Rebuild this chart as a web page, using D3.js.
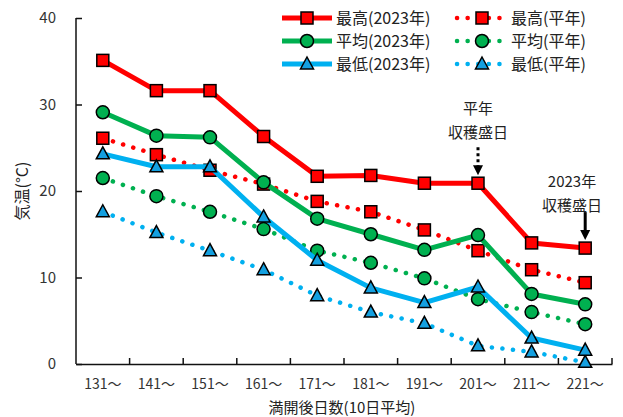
<!DOCTYPE html>
<html>
<head>
<meta charset="utf-8">
<script src="https://cdn.jsdelivr.net/npm/d3@7"></script>
<style>
  body { margin: 0; background: #fff; }
  svg { display: block; font-family: "Noto Sans CJK JP", "Noto Sans", sans-serif; }
</style>
</head>
<body>
<svg id="chart" width="623" height="417"></svg>
<script>
// 満開後日数（10日平均）
const categories = ["131～", "141～", "151～", "161～", "171～", "181～", "191～", "201～", "211～", "221～"];
const maxThisYear = [35.1, 31.6, 31.6, 26.3, 21.7, 21.8, 20.9, 20.9, 14.0, 13.4];
const avgThisYear = [29.1, 26.4, 26.2, 21.0, 16.8, 15.0, 13.2, 14.9, 8.1, 6.9];
const minThisYear = [24.3, 22.8, 22.8, 17.0, 12.0, 8.8, 7.1, 8.9, 3.0, 1.6];
const maxNormal = [26.1, 24.2, 22.4, 20.8, 18.8, 17.6, 15.5, 13.1, 10.9, 9.4];
const avgNormal = [21.5, 19.4, 17.6, 15.6, 13.1, 11.7, 9.9, 7.5, 6.0, 4.6];
const minNormal = [17.6, 15.2, 13.1, 10.9, 7.9, 6.0, 4.7, 2.1, 1.4, 0.2];
const yTicks = [0, 10, 20, 30, 40];

// 系列（描画順：平年 → 2023年）
const series = [
    { name: "最高(平年)", values: maxNormal, color: "#ff0000", dotted: true, marker: "square" },
    { name: "平均(平年)", values: avgNormal, color: "#00b050", dotted: true, marker: "circle" },
    { name: "最低(平年)", values: minNormal, color: "#00b0f0", dotted: true, marker: "triangle" },
    { name: "最低(2023年)", values: minThisYear, color: "#00b0f0", dotted: false, marker: "triangle" },
    { name: "平均(2023年)", values: avgThisYear, color: "#00b050", dotted: false, marker: "circle" },
    { name: "最高(2023年)", values: maxThisYear, color: "#ff0000", dotted: false, marker: "square" }
];
const legendOrder = ["最高(2023年)", "最高(平年)", "平均(2023年)", "平均(平年)", "最低(2023年)", "最低(平年)"];

const svg = d3.select("#chart");
const x = d3.scaleBand().domain(categories).range([76, 612]);
const y = d3.scaleLinear().domain([0, 40]).range([364, 18]);
const cx = d => x(d) + x.bandwidth() / 2;

// 軸
const yAxis = svg.append("g")
    .attr("transform", "translate(76,0)")
    .call(d3.axisLeft(y).tickValues(yTicks).tickSize(-6).tickPadding(20));
const xAxis = svg.append("g")
    .attr("transform", "translate(0,364)")
    .call(d3.axisBottom(x).tickSize(0).tickPadding(15));
// バンド境界の目盛り（内向き）
xAxis.selectAll(".bnd")
    .data(categories.slice(1).concat([null]))
    .enter().append("line")
    .attr("x1", d => d === null ? 612 : x(d))
    .attr("x2", d => d === null ? 612 : x(d))
    .attr("y1", 0).attr("y2", -6)
    .attr("stroke", "#111").attr("stroke-width", 1.5);
[yAxis, xAxis].forEach(g => {
    g.select(".domain").attr("stroke", "#111").attr("stroke-width", 1.5);
    g.selectAll(".tick line").attr("stroke", "#111").attr("stroke-width", 1.5);
    g.selectAll("text").attr("font-size", 15).attr("fill", "#333")
        .attr("font-family", "\"Noto Sans CJK JP\", sans-serif");
});
xAxis.selectAll("text").attr("font-size", 14);
yAxis.select(".domain").attr("d", "M0,364V18");

// 軸タイトル
svg.append("text")
    .attr("transform", "translate(28,191) rotate(-90)")
    .attr("text-anchor", "middle")
    .attr("font-size", 16).attr("fill", "#222")
    .text("気温(°C)");
svg.append("text")
    .attr("x", 342).attr("y", 413)
    .attr("text-anchor", "middle")
    .attr("font-size", 15).attr("fill", "#222")
    .text("満開後日数(10日平均)");

function drawMarker(g, type, color, px, py) {
    if (type === "square") {
        g.append("rect").attr("x", px - 6).attr("y", py - 6).attr("width", 12).attr("height", 12)
            .attr("fill", color).attr("stroke", "#000").attr("stroke-width", 1.5);
    } else if (type === "circle") {
        g.append("circle").attr("cx", px).attr("cy", py).attr("r", 6.5)
            .attr("fill", color).attr("stroke", "#000").attr("stroke-width", 1.5);
    } else {
        g.append("path").attr("d", `M${px},${py - 7}L${px + 6.5},${py + 5}L${px - 6.5},${py + 5}Z`)
            .attr("fill", color === "#00b0f0" ? "#14a0e0" : color).attr("stroke", "#000").attr("stroke-width", 1.5);
    }
}

function styleLine(sel, s) {
    sel.attr("fill", "none").attr("stroke", s.color);
    if (s.dotted) {
        sel.attr("stroke-width", 4.5).attr("stroke-linecap", "round").attr("stroke-dasharray", "0.1 10.5");
    } else {
        sel.attr("stroke-width", 5).attr("stroke-linejoin", "round");
    }
}

const line = d3.line().x((d, i) => cx(categories[i])).y(d => y(d));
series.forEach(s => {
    const g = svg.append("g");
    styleLine(g.append("path").attr("d", line(s.values)), s);
    s.values.forEach((v, i) => drawMarker(g, s.marker, s.color, cx(categories[i]), y(v)));
});

// 凡例
const legend = svg.append("g");
legendOrder.forEach((name, k) => {
    const s = series.find(t => t.name === name);
    const col = k % 2, row = Math.floor(k / 2);
    const lx = col === 0 ? 282 : 457, ly = 18 + row * 23;
    styleLine(legend.append("path").attr("d", `M${lx},${ly}H${lx + 50}`), s);
    drawMarker(legend, s.marker, s.color, lx + 25, ly);
    legend.append("text").attr("x", lx + 54).attr("y", ly + 6)
        .attr("font-size", 16).attr("fill", "#222").text(name);
});

// 収穫盛日の注記
function annotate(lines, tx, ty, cat, value, dotted) {
    const ax = cx(cat), tip = y(value) - 8;
    lines.forEach((t, i) => {
        svg.append("text").attr("x", tx).attr("y", ty + i * 24)
            .attr("text-anchor", "middle").attr("font-size", 15).attr("fill", "#222").text(t);
    });
    svg.append("line").attr("x1", ax).attr("x2", ax).attr("y1", tip - 28).attr("y2", tip - 8)
        .attr("stroke", "#000").attr("stroke-width", 3)
        .attr("stroke-dasharray", dotted ? "3 3" : null);
    svg.append("path").attr("d", `M${ax - 5},${tip - 10}L${ax + 5},${tip - 10}L${ax},${tip}Z`).attr("fill", "#000");
}
annotate(["平年", "収穫盛日"], cx("201～"), 114, "201～", maxThisYear[7], true);
annotate(["2023年", "収穫盛日"], 572, 187, "221～", maxThisYear[9], false);
</script>
</body>
</html>
